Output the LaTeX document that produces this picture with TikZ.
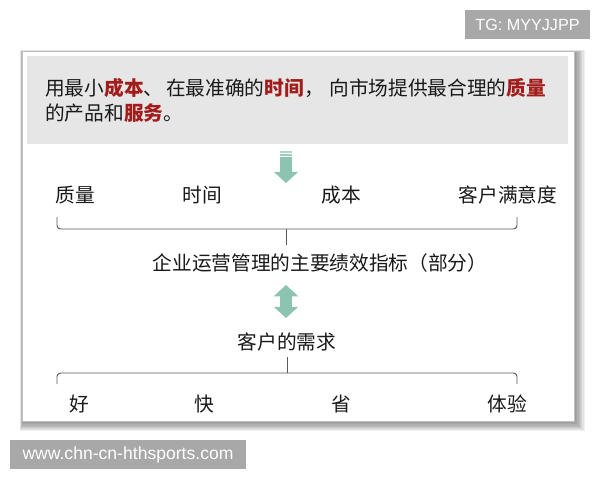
\documentclass[tikz,border=0pt]{standalone}
\usepackage{fontspec}
\setmainfont{Liberation Sans}
\newfontfamily\cjk{Noto Sans CJK SC}
\usetikzlibrary{arrows.meta}
\definecolor{keyred}{HTML}{A31C1C}
\definecolor{sage}{HTML}{8DC3B1}
\definecolor{panelgray}{HTML}{E6E6E6}
\definecolor{tagbox}{HTML}{A8A8A8}
\tikzset{
  item/.style={font=\cjk\fontsize{14}{17.7}\selectfont, text=black!90, inner sep=0pt},
  brace/.style={draw=black!65, line width=0.7pt, rounded corners=2.5pt},
  flow/.style={draw=sage, line width=8pt},
  flowtip/.tip={Triangle[length=8pt, width=17pt]},
  tag/.style={fill=tagbox, text=white, inner sep=0pt}
}
\newcommand{\hl}[1]{\textcolor{keyred}{\bfseries #1}}

\begin{document}
\begin{tikzpicture}[x=0.025cm, y=-0.025cm]
  \useasboundingbox (0,0) rectangle (600,480);
  % card with soft shadow
  \foreach \s in {0,1,...,7}
    \fill[black, opacity=0.06] ({20+\s*0.3},{50+\s*0.3}) rectangle ({585-\s*1.3},{431-\s*1.1});
  \filldraw[fill=white, draw=black!25, line width=0.4pt] (22,51) rectangle (574,421);
  \fill[panelgray] (27,56) rectangle (568,144);
  \node[item, anchor=west, align=left] (goal) at (45,100.5)
    {用最小\hl{成本}、\hspace{2pt}在最准确的\hl{时间}，\hspace{4pt}向市场提供最合理的\hl{质量}\\
     的产品和\hl{服务}。};

  % downward arrow
  \coordinate (down top) at (286,157);
  \coordinate (down tip) at (286,183);
  \fill[sage!70] (280,151) rectangle (292,152.8);
  \fill[sage!85] (280,154.2) rectangle (292,156);
  \draw[flow, -flowtip] (down top) -- (down tip);

  % indicators
  \node[item] (quality) at (75,195) {质量};
  \node[item] (time) at (202,195) {时间};
  \node[item] (cost) at (341,195) {成本};
  \node[item] (satisfy) at (508,195) {客户满意度};
  \coordinate (kl) at (57,217);
  \coordinate (kr) at (517,217);
  \coordinate (km) at (286,229);
  \coordinate (kt) at (286,245);
  \draw[brace] (kl) |- (km) -| (kr);
  \draw[brace] (km) -- (kt);
  \node[item] (kpi) at (320,263) {企业运营管理的主要绩效指标（部分）};

  % two-way arrow
  \coordinate (dbl top) at (286,285);
  \coordinate (dbl bot) at (286,318);
  \draw[flow, flowtip-flowtip] (dbl top) -- (dbl bot);

  % customer needs
  \node[item] (need) at (287,342) {客户的需求};
  \coordinate (nt) at (287,357);
  \coordinate (nm) at (287,373);
  \coordinate (nl) at (57,384);
  \coordinate (nr) at (517,384);
  \draw[brace] (nl) |- (nm) -| (nr);
  \draw[brace] (nt) -- (nm);
  \node[item] (good) at (79,404) {好};
  \node[item] (fast) at (204,404) {快};
  \node[item] (save) at (341,404) {省};
  \node[item] (exp) at (507,404) {体验};

  % labels outside the card
  \node[tag, minimum width=125*0.025cm, minimum height=29*0.025cm,
    font=\fontsize{11.5}{13}\selectfont] (tg) at (527.5,24.5) {TG: MYYJJPP};
  \node[tag, minimum width=236*0.025cm, minimum height=29*0.025cm,
    font=\fontsize{12.5}{14}\selectfont] (site) at (128,454.5) {www.chn-cn-hthsports.com};
\end{tikzpicture}
\end{document}
